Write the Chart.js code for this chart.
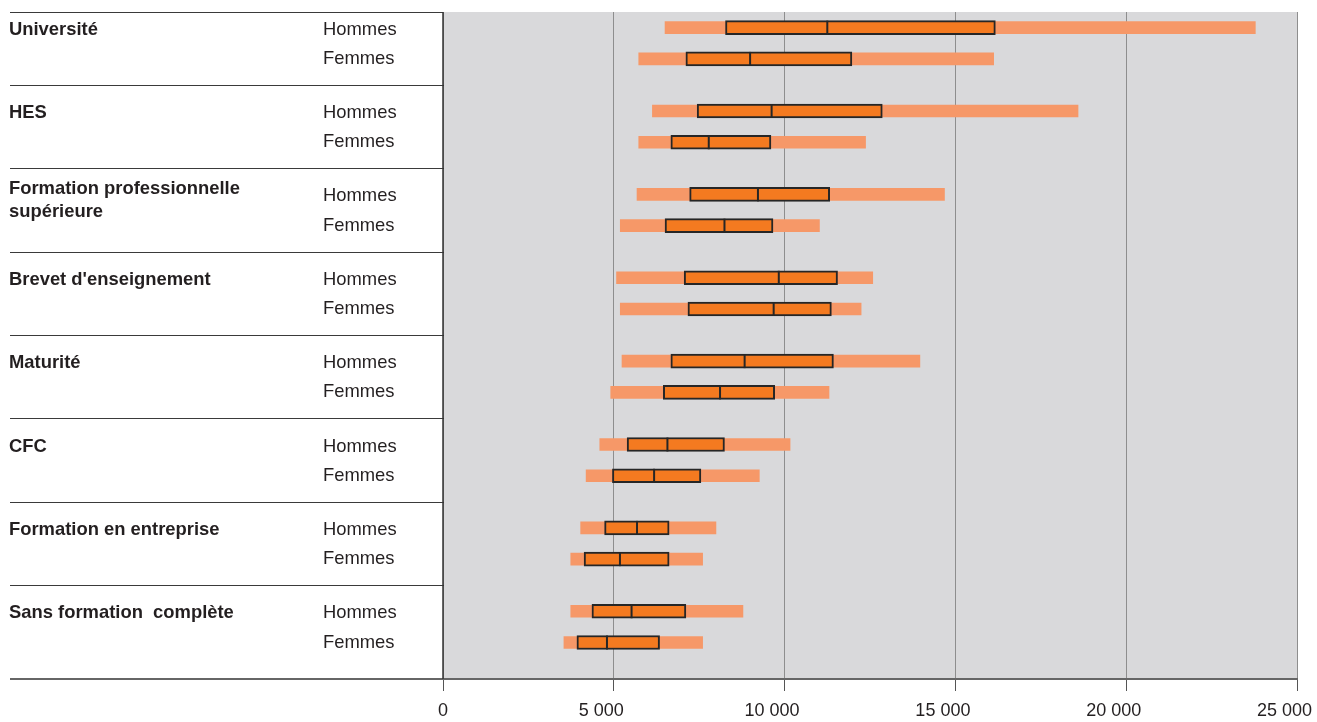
<!DOCTYPE html>
<html lang="fr">
<head>
    <meta charset="UTF-8">
    <title>Salaires par formation</title>
    <style>
        body {
            margin: 0;
            padding: 0;
            background: #fff;
        }

        .chart-box {
            width: 1317px;
            height: 722px;
        }
    </style>
    <script src="https://cdn.jsdelivr.net/npm/chart.js"></script>
</head>
<body>
    <div class="chart-box">
        <canvas id="salaryChart"></canvas>
    </div>

    <script>
        // Catégories de formation (une ligne Hommes + une ligne Femmes chacune)
        const groups = [
            ['Université'],
            ['HES'],
            ['Formation professionnelle', 'supérieure'],
            ["Brevet d'enseignement"],
            ['Maturité'],
            ['CFC'],
            ['Formation en entreprise'],
            ['Sans formation  complète']
        ];
        const sexes = ['Hommes', 'Femmes'];

        // Hommes : bas (barre claire), Q1, médiane, Q3, haut (barre claire)
        const hommesLow = [6500, 6130, 5680, 5080, 5240, 4590, 4030, 3740];
        const hommesQ1 = [8270, 7440, 7220, 7060, 6670, 5390, 4730, 4360];
        const hommesMed = [11250, 9620, 9220, 9830, 8830, 6570, 5680, 5520];
        const hommesQ3 = [16170, 12860, 11320, 11550, 11430, 8240, 6620, 7110];
        const hommesHigh = [23780, 18590, 14680, 12580, 13960, 10160, 7990, 8780];

        // Femmes
        const femmesLow = [5730, 5730, 5190, 5190, 4910, 4190, 3740, 3540];
        const femmesQ1 = [7110, 6670, 6500, 7170, 6450, 4960, 4130, 3920];
        const femmesMed = [8990, 7780, 8240, 9680, 8110, 6180, 5180, 4800];
        const femmesQ3 = [11970, 9600, 9660, 11370, 9710, 7550, 6620, 6340];
        const femmesHigh = [16120, 12370, 11020, 12240, 11300, 9260, 7600, 7600];

        const xTicks = [0, 5000, 10000, 15000, 20000, 25000];

        // 8 cases par groupe : vide, Hommes, vide, vide, Femmes, vide, vide, vide
        const SLOTS = 8, H_SLOT = 1, F_SLOT = 4;
        const labels = [];
        const lightData = [];
        const boxData = [];
        const medianData = [];
        groups.forEach((g, i) => {
            const rows = [
                [hommesLow[i], hommesQ1[i], hommesMed[i], hommesQ3[i], hommesHigh[i]],
                [femmesLow[i], femmesQ1[i], femmesMed[i], femmesQ3[i], femmesHigh[i]]
            ];
            for (let k = 0; k < SLOTS; k++) {
                const s = k === H_SLOT ? 0 : k === F_SLOT ? 1 : -1;
                if (s < 0) {
                    labels.push('');
                    lightData.push(null);
                    boxData.push(null);
                    continue;
                }
                const r = rows[s];
                labels.push(g.join(' ') + ' - ' + sexes[s]);
                lightData.push([r[0], r[4]]);
                boxData.push([r[1], r[3]]);
                medianData.push({ x: r[2], y: labels.length - 1 });
            }
        });

        const fmt = v => String(v).replace(/\B(?=(\d{3})+(?!\d))/g, ' ');

        // Fond gris, tableau de gauche et textes
        const tablePlugin = {
            id: 'tablePlugin',
            beforeDraw(chart) {
                const { ctx, chartArea: a } = chart;
                ctx.save();
                ctx.fillStyle = '#d9d9db';
                ctx.fillRect(a.left, a.top, a.right - a.left, a.bottom - a.top);
                ctx.restore();
            },
            afterDraw(chart) {
                const { ctx, chartArea: a, scales } = chart;
                const y = scales.y;
                ctx.save();
                ctx.strokeStyle = '#3a3a3a';
                ctx.lineWidth = 1;
                // ligne du haut
                ctx.beginPath();
                ctx.moveTo(10, a.top + 0.5);
                ctx.lineTo(a.left, a.top + 0.5);
                ctx.stroke();
                // séparateurs entre groupes (milieu entre Femmes et Hommes suivant)
                for (let g = 0; g < groups.length - 1; g++) {
                    const yf = y.getPixelForValue(g * SLOTS + F_SLOT);
                    const yn = y.getPixelForValue((g + 1) * SLOTS + H_SLOT);
                    const py = Math.round((yf + yn) / 2) + 0.5;
                    ctx.beginPath();
                    ctx.moveTo(10, py);
                    ctx.lineTo(a.left + 1, py);
                    ctx.stroke();
                }
                // ligne du bas
                ctx.strokeStyle = '#666';
                ctx.lineWidth = 2;
                ctx.beginPath();
                ctx.moveTo(10, a.bottom);
                ctx.lineTo(a.left, a.bottom);
                ctx.stroke();
                // axe vertical
                ctx.strokeStyle = '#333';
                ctx.lineWidth = 1.5;
                ctx.beginPath();
                ctx.moveTo(a.left, a.top);
                ctx.lineTo(a.left, a.bottom);
                ctx.stroke();

                ctx.fillStyle = '#231f20';
                ctx.textBaseline = 'middle';
                ctx.textAlign = 'left';
                groups.forEach((g, i) => {
                    const yh = y.getPixelForValue(i * SLOTS + H_SLOT);
                    const yf = y.getPixelForValue(i * SLOTS + F_SLOT);
                    ctx.font = 'bold 18.4px "Liberation Sans", Arial, sans-serif';
                    const top = g.length > 1 ? yh - 5 : yh + 2;
                    g.forEach((line, k) => ctx.fillText(line, 9, top + k * 23));
                    ctx.font = '18.4px "Liberation Sans", Arial, sans-serif';
                    ctx.fillText(sexes[0], 323, yh + 2);
                    ctx.fillText(sexes[1], 323, yf);
                });
                ctx.restore();
            }
        };

        const ctx = document.getElementById('salaryChart').getContext('2d');
        new Chart(ctx, {
            type: 'bar',
            data: {
                labels: labels,
                datasets: [
                    {
                        label: 'Étendue',
                        data: lightData,
                        backgroundColor: '#f69868',
                        borderWidth: 0,
                        barThickness: 12,
                        grouped: false,
                        order: 3
                    },
                    {
                        label: 'Quartiles',
                        data: boxData,
                        backgroundColor: '#f47a20',
                        borderColor: '#262626',
                        borderWidth: 2,
                        borderSkipped: false,
                        barThickness: 14,
                        grouped: false,
                        order: 2
                    },
                    {
                        type: 'scatter',
                        label: 'Médiane',
                        data: medianData,
                        parsing: false,
                        pointStyle: 'line',
                        rotation: 90,
                        radius: 7,
                        borderWidth: 2,
                        borderColor: '#262626',
                        order: 1
                    }
                ]
            },
            options: {
                indexAxis: 'y',
                responsive: true,
                maintainAspectRatio: false,
                animation: false,
                layout: {
                    padding: { left: 443, right: 20, top: 12, bottom: 0 }
                },
                plugins: {
                    legend: { display: false },
                    tooltip: { enabled: false }
                },
                scales: {
                    x: {
                        type: 'linear',
                        min: 0,
                        max: 25000,
                        afterBuildTicks: s => { s.ticks = xTicks.map(v => ({ value: v })); },
                        afterFit: s => {
                            s.height = 43;
                            s.paddingLeft = 0;
                            s.paddingRight = 0;
                        },
                        grid: {
                            color: '#8e8e8e',
                            lineWidth: 1,
                            tickLength: 12,
                            tickColor: '#555'
                        },
                        border: { color: '#666', width: 2 },
                        ticks: {
                            padding: 9,
                            color: '#231f20',
                            font: { family: '"Liberation Sans", Arial, sans-serif', size: 18 },
                            // les libellés de l'original sont décalés vers la gauche
                            callback: v => v === 0 ? '0' : fmt(v) + '\u00a0\u00a0\u00a0\u00a0\u00a0'
                        }
                    },
                    y: {
                        type: 'category',
                        display: false
                    }
                }
            },
            plugins: [tablePlugin]
        });
    </script>
</body>
</html>
